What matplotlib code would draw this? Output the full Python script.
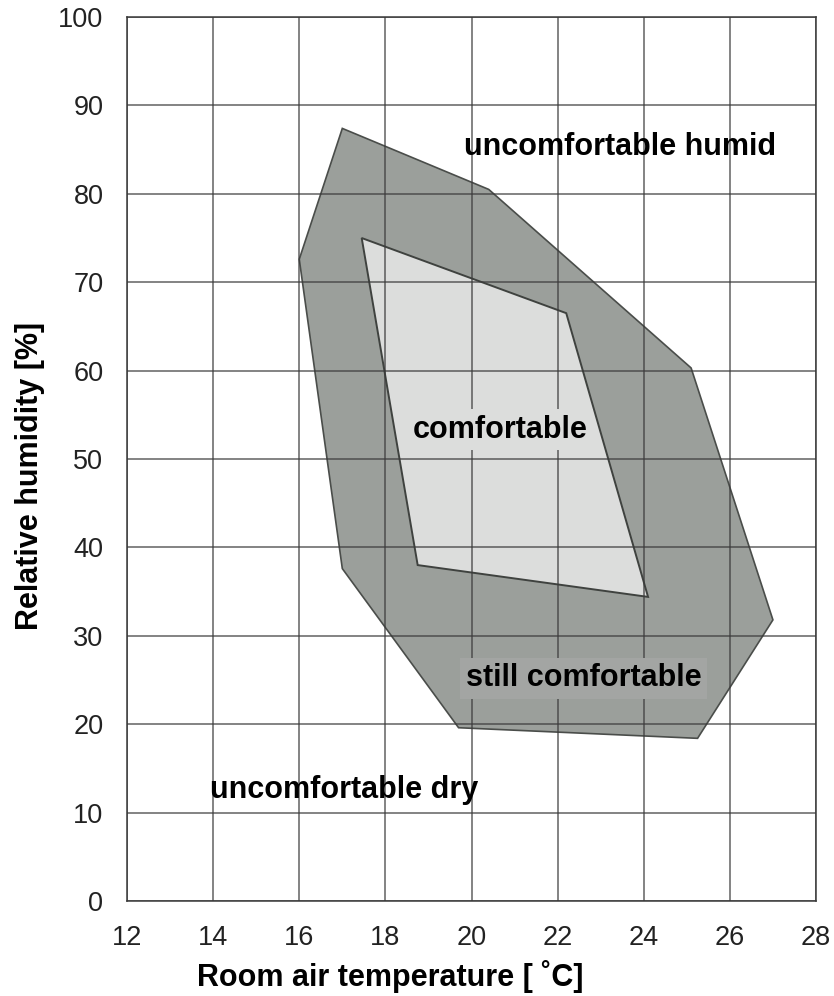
import matplotlib
matplotlib.use("Agg")
from matplotlib import pyplot as plt

plt.rcParams['font.family'] = ['Liberation Sans', 'DejaVu Sans']

# comfort zones (temperature [C], relative humidity [%])
still_temp = [17.0, 20.4, 25.1, 27.0, 25.25, 19.7, 17.0, 16.0]
still_hum = [87.4, 80.5, 60.3, 31.8, 18.4, 19.6, 37.6, 72.6]
comf_temp = [17.45, 22.2, 24.1, 18.75]
comf_hum = [75.0, 66.5, 34.4, 38.0]

x_ticks = list(range(12, 29, 2))
y_ticks = list(range(0, 101, 10))

fig = plt.figure(figsize=(8.34, 9.96), dpi=100)
ax = fig.add_axes([0.1523, 0.0954, 0.8261, 0.8875])

ax.fill(still_temp, still_hum, facecolor='#9b9f9b', edgecolor='#4a4d4a',
        linewidth=1.2, zorder=1)
ax.fill(comf_temp, comf_hum, facecolor='#dcdddc', edgecolor='#3f423f',
        linewidth=1.4, zorder=2)

ax.set_xlim(12, 28)
ax.set_ylim(0, 100)
ax.set_xticks(x_ticks)
ax.set_yticks(y_ticks)
ax.grid(True, color='#3a3a3a', linewidth=1.1, alpha=0.8, zorder=3)
ax.set_axisbelow(False)
for s in ax.spines.values():
    s.set_color('#3a3a3a')
    s.set_linewidth(1.1)
ax.tick_params(length=0, labelsize=19.5, colors='#222222')
ax.tick_params(axis='y', pad=17)
ax.tick_params(axis='x', pad=17)

ax.text(23.45, 85.3, 'uncomfortable humid', fontsize=22, fontweight='bold',
        ha='center', va='center', zorder=5)
ax.text(20.66, 53.3, 'comfortable', fontsize=22, fontweight='bold',
        ha='center', va='center', zorder=5,
        bbox=dict(facecolor='#dcdddc', edgecolor='none', pad=4))
ax.text(22.6, 25.2, 'still comfortable', fontsize=22, fontweight='bold',
        ha='center', va='center', zorder=5,
        bbox=dict(facecolor='#a3a5a3', edgecolor='none', pad=4))
ax.text(17.05, 12.6, 'uncomfortable dry', fontsize=22, fontweight='bold',
        ha='center', va='center', zorder=5)

fig.text(30 / 834, 1 - 476 / 996, 'Relative humidity [%]', rotation=90,
         fontsize=22, fontweight='bold', ha='center', va='center')
fig.text(390 / 834, 1 - 986 / 996, 'Room air temperature [ \u02daC]',
         fontsize=22, fontweight='bold', ha='center', va='baseline')

fig.savefig('out.png', dpi=100)
